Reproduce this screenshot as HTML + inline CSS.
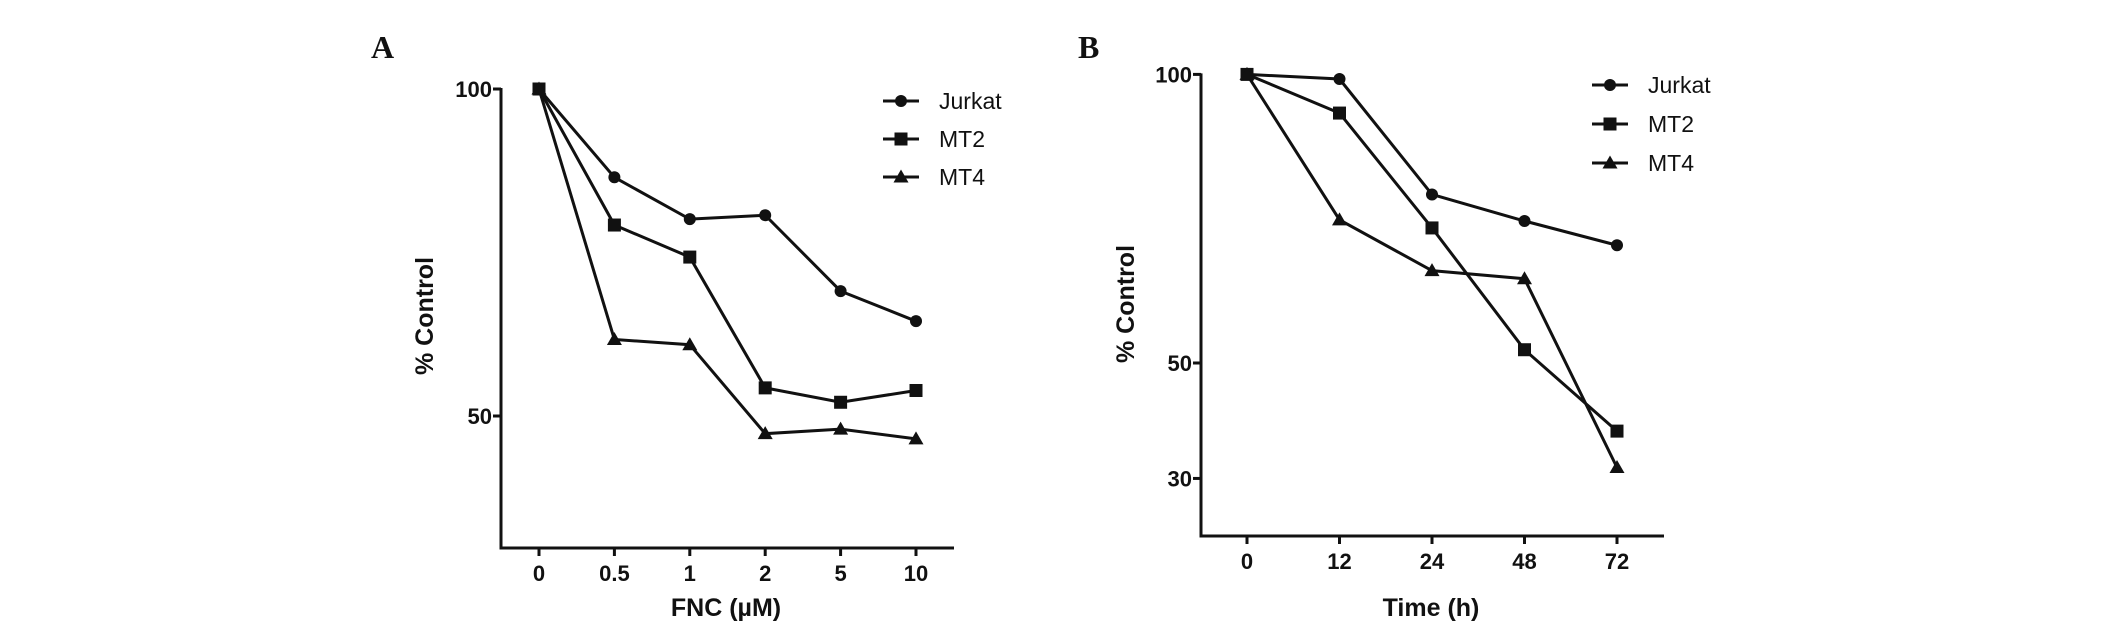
<!DOCTYPE html>
<html><head><meta charset="utf-8"><style>
html,body{margin:0;padding:0;background:#fff;}
svg{display:block;}
text{font-family:"Liberation Sans",Arial,sans-serif;fill:#111;}
</style></head><body>
<svg id="fig" width="2126" height="624" viewBox="0 0 2126 624"></svg>
<script>
// Panel A data
const catsA = ["0","0.5","1","2","5","10"];
const jurkatA = [100, 86.5, 80.1, 80.7, 69.1, 64.5];
const mt2A = [100, 79.2, 74.3, 54.3, 52.1, 53.9];
const mt4A = [100, 61.7, 60.9, 47.3, 48.0, 46.5];
const yTicksA = [50, 100];
// Panel B data
const catsB = ["0","12","24","48","72"];
const jurkatB = [100, 99.2, 79.2, 74.6, 70.4];
const mt2B = [100, 93.3, 73.4, 52.3, 38.2];
const mt4B = [100, 74.8, 66.0, 64.6, 31.9];
const yTicksB = [30, 50, 100];
const seriesNames = ["Jurkat","MT2","MT4"];

const NS="http://www.w3.org/2000/svg";
const svg=document.getElementById('fig');
function mk(tag,attrs,parent){const e=document.createElementNS(NS,tag);for(const k in attrs)e.setAttribute(k,attrs[k]);(parent||svg).appendChild(e);return e;}

function marker(g,shape,x,y){
  let m;
  if(shape===0){m=mk('circle',{cx:x,cy:y,r:6,fill:'#111'},g);}
  else if(shape===1){m=mk('rect',{x:x-6.5,y:y-6.5,width:13,height:13,fill:'#111'},g);}
  else {m=mk('polygon',{points:`${x},${y-7.5} ${x+7.5},${y+5.5} ${x-7.5},${y+5.5}`,fill:'#111'},g);}
  
  
}

function panel(cfg){
  const g=mk('g',{});
  
  
  const xs=i=>cfg.x0+i*cfg.dx;
  const ys=v=>cfg.yTop+(cfg.vTop-v)*(cfg.yBot-cfg.yTop)/(cfg.vTop-cfg.vBot);
  // letter
  const L=mk('text',{x:cfg.letterX,y:58,'font-size':32,'font-weight':'bold',style:'font-family:"Liberation Serif",serif'},g);
  L.textContent=cfg.letter;
  
  
  // axes
  const ya=mk('line',{x1:cfg.ax,y1:ys(cfg.vTop)-1,x2:cfg.ax,y2:cfg.axisY,stroke:'#111','stroke-width':3},g);
  
  
  const xa=mk('line',{x1:cfg.ax-1.5,y1:cfg.axisY,x2:cfg.axRight,y2:cfg.axisY,stroke:'#111','stroke-width':3},g);
  
  
  cfg.yTicks.forEach(v=>{
    mk('line',{x1:cfg.ax-8,y1:ys(v),x2:cfg.ax,y2:ys(v),stroke:'#111','stroke-width':3},g);
    const t=mk('text',{x:cfg.ax-9,y:ys(v)+8,'font-size':22,'font-weight':'bold','text-anchor':'end'},g);
    t.textContent=v;
    
    
  });
  cfg.cats.forEach((c,i)=>{
    mk('line',{x1:xs(i),y1:cfg.axisY,x2:xs(i),y2:cfg.axisY+8,stroke:'#111','stroke-width':3},g);
    const t=mk('text',{x:xs(i),y:cfg.axisY+33,'font-size':22,'font-weight':'bold','text-anchor':'middle'},g);
    t.textContent=c;
    
    
  });
  const yt=mk('text',{x:0,y:0,'font-size':25,'font-weight':'bold','text-anchor':'middle',transform:`translate(${cfg.ytX},${cfg.ytY}) rotate(-90)`},g);
  yt.textContent='% Control';
  
  
  const xt=mk('text',{x:cfg.xtX,y:616,'font-size':25,'font-weight':'bold','text-anchor':'middle'},g);
  xt.textContent=cfg.xTitle;
  
  
  cfg.series.forEach((s,si)=>{
    const pts=s.map((v,i)=>xs(i)+','+ys(v)).join(' ');
    const pl=mk('polyline',{points:pts,fill:'none',stroke:'#111','stroke-width':3},g);
    
    
    s.forEach((v,i)=>marker(g,si,xs(i),ys(v)));
  });
  seriesNames.forEach((n,si)=>{
    const ly=cfg.legY+si*cfg.legDy;
    const lg=mk('g',{},g);
    
    
    mk('line',{x1:cfg.legX,y1:ly,x2:cfg.legX+36,y2:ly,stroke:'#111','stroke-width':3},lg);
    marker(lg,si,cfg.legX+18,ly);
    const t=mk('text',{x:cfg.legX+56,y:ly+8,'font-size':23},lg);
    t.textContent=n;
  });
}

panel({name:'panel-a',letter:'A',letterX:371,x0:539,dx:75.4,ax:501,axRight:954,axisY:548,
  yTop:89,yBot:416,vTop:100,vBot:50,yTicks:yTicksA,cats:catsA,series:[jurkatA,mt2A,mt4A],
  ytX:433,ytY:316,xtX:726,xTitle:'FNC (\u00b5M)',legX:883,legY:101,legDy:38});
panel({name:'panel-b',letter:'B',letterX:1078,x0:1247,dx:92.5,ax:1201,axRight:1664,axisY:536,
  yTop:74.4,yBot:363,vTop:100,vBot:50,yTicks:yTicksB,cats:catsB,series:[jurkatB,mt2B,mt4B],
  ytX:1134,ytY:304,xtX:1431,xTitle:'Time (h)',legX:1592,legY:85,legDy:39});
</script>
</body></html>
